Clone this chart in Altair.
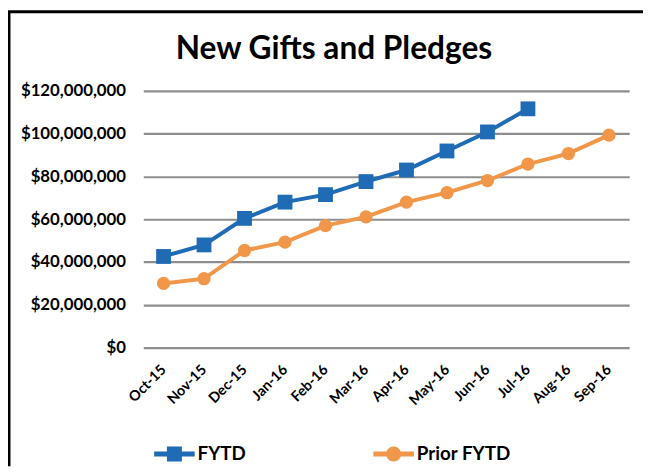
import altair as alt
import pandas as pd

months = ["Oct-15", "Nov-15", "Dec-15", "Jan-16", "Feb-16", "Mar-16",
          "Apr-16", "May-16", "Jun-16", "Jul-16", "Aug-16", "Sep-16"]
fytd = [42.6e6, 48.0e6, 60.4e6, 68.0e6, 71.5e6, 77.6e6,
        83.0e6, 91.9e6, 100.8e6, 111.6e6]
prior = [30.0e6, 32.2e6, 45.4e6, 49.3e6, 57.0e6, 61.1e6,
         68.0e6, 72.4e6, 78.1e6, 85.8e6, 90.7e6, 99.3e6]
series = ["FYTD", "Prior FYTD"]
colors = ["#1f6bb5", "#f0974a"]
y_ticks = [0, 20e6, 40e6, 60e6, 80e6, 100e6, 120e6]

rows = []
for m, v in zip(months, fytd):
    rows.append({"month": m, "series": "FYTD", "value": v})
for m, v in zip(months, prior):
    rows.append({"month": m, "series": "Prior FYTD", "value": v})
df = pd.DataFrame(rows)

color_scale = alt.Scale(domain=series, range=colors)

x_enc = alt.X("month:N", sort=months, scale=alt.Scale(domain=months),
              axis=alt.Axis(title=None, labelAngle=-45, labelAlign="right",
                            labelBaseline="middle", labelPadding=20,
                            ticks=False, domain=False, labelFontSize=14.5,
                            labelFontWeight="bold", labelColor="#000000"))
y_enc = alt.Y("value:Q", scale=alt.Scale(domain=[0, 120e6], nice=False),
              axis=alt.Axis(title=None, values=y_ticks, format="$,.0f",
                            ticks=False, domain=False, labelFontSize=17,
                            labelFontWeight="bold", labelColor="#000000",
                            labelPadding=18, gridColor="#8e8e8e",
                            gridWidth=2.2, gridOpacity=1))

base = alt.Chart(df).encode(
    x=x_enc, y=y_enc,
    color=alt.Color("series:N", scale=color_scale, legend=None),
)

lines = base.mark_line(strokeWidth=4).encode(detail="series:N")
squares = base.transform_filter(alt.datum.series == "FYTD").mark_square(
    size=225, opacity=1)
circles = base.transform_filter(alt.datum.series == "Prior FYTD").mark_circle(
    size=180, opacity=1)
data_layers = alt.layer(lines, squares, circles)

sq_path = ("M-1,-0.12H1V0.12H-1Z "
           "M-0.37,-0.37H0.37V0.37H-0.37Z")
ci_path = ("M-1,-0.12H1V0.12H-1Z "
           "M-0.37,0A0.37,0.37 0 1,1 0.37,0A0.37,0.37 0 1,1 -0.37,0Z")

leg_common = dict(orient="none", legendX=11, legendY=347, direction="horizontal",
                  title=None, symbolSize=1681, symbolStrokeWidth=0,
                  labelFontSize=19, labelFontWeight="bold", labelColor="#000000",
                  labelOffset=3, columnPadding=129, padding=0)

legend_df = pd.DataFrame({"series": pd.Series([], dtype=str)})
legend_layer = alt.Chart(legend_df).mark_point(filled=True, opacity=1).encode(
    color=alt.Color("series:N", scale=color_scale, legend=alt.Legend(**leg_common)),
    shape=alt.Shape("series:N", scale=alt.Scale(domain=series, range=[sq_path, ci_path]),
                    legend=alt.Legend(**leg_common)),
)

bdf = pd.DataFrame({"b": [0]})
border_left = alt.Chart(bdf).mark_rule(color="#000000", strokeWidth=3).encode(
    x=alt.value(-136), y=alt.value(-80), y2=alt.value(380))
border_top = alt.Chart(bdf).mark_rule(color="#000000", strokeWidth=3).encode(
    x=alt.value(-137), x2=alt.value(510), y=alt.value(-80))

chart = alt.layer(data_layers, legend_layer, border_left, border_top).resolve_scale(
    color="independent", shape="independent"
).properties(
    width=492, height=260,
    title=alt.TitleParams("New Gifts and Pledges", fontSize=32, fontWeight="bold",
                          anchor="middle", dx=-53, dy=60, color="#000000"),
    autosize=alt.AutoSizeParams(type="none"),
    padding={"left": 137, "top": 81, "right": 14, "bottom": 119},
).configure(font="Lato").configure_view(stroke=None)

chart.save("out.html", embed_options={"renderer": "svg", "actions": False})
